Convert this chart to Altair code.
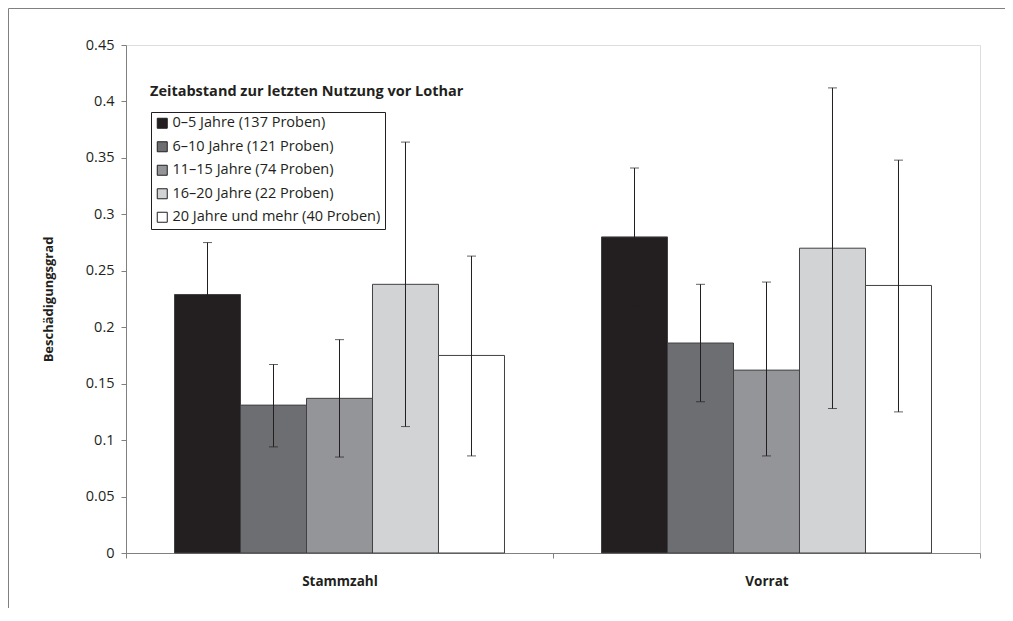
import altair as alt
import pandas as pd

categories = ["Stammzahl", "Vorrat"]
groups = [
    "0–5 Jahre (137 Proben)",
    "6–10 Jahre (121 Proben)",
    "11–15 Jahre (74 Proben)",
    "16–20 Jahre (22 Proben)",
    "20 Jahre und mehr (40 Proben)",
]
colors = ["#231f20", "#6d6e71", "#939598", "#d1d3d4", "#ffffff"]

# means per group: [Stammzahl, Vorrat]
mean_values = {
    groups[0]: [0.229, 0.280],
    groups[1]: [0.131, 0.186],
    groups[2]: [0.137, 0.162],
    groups[3]: [0.238, 0.270],
    groups[4]: [0.175, 0.237],
}
err_low = {
    groups[0]: [0.183, 0.219],
    groups[1]: [0.094, 0.134],
    groups[2]: [0.085, 0.086],
    groups[3]: [0.112, 0.128],
    groups[4]: [0.086, 0.125],
}
err_high = {
    groups[0]: [0.275, 0.341],
    groups[1]: [0.167, 0.238],
    groups[2]: [0.189, 0.240],
    groups[3]: [0.364, 0.412],
    groups[4]: [0.263, 0.348],
}

rows = []
for g in groups:
    for i, c in enumerate(categories):
        rows.append({"cat": c, "grp": g, "val": mean_values[g][i],
                     "lo": err_low[g][i], "hi": err_high[g][i]})
df = pd.DataFrame(rows)

FONT = "Open Sans"
TXT = "#231f20"
W, H = 854, 508

x_enc = alt.X("cat:N", sort=categories,
              scale=alt.Scale(paddingInner=0, paddingOuter=0),
              axis=alt.Axis(title=None, labelAngle=0, labelFontWeight="bold",
                            labelFontSize=13.5, labelPadding=16, tickSize=5,
                            tickBand="extent", domainColor="#808080",
                            tickColor="#808080", labelColor=TXT))
xo_enc = alt.XOffset("grp:N", sort=groups,
                     scale=alt.Scale(paddingInner=0, paddingOuter=0.735))
y_scale = alt.Scale(domain=[0, 0.45], nice=False)

bars = alt.Chart(df).mark_bar(stroke="#414042", strokeWidth=1).encode(
    x=x_enc,
    xOffset=xo_enc,
    y=alt.Y("val:Q", scale=y_scale,
            axis=alt.Axis(title="Beschädigungsgrad", values=[0, 0.05, 0.1, 0.15, 0.2, 0.25, 0.3, 0.35, 0.4, 0.45],
                          format=".2~f", grid=False, tickSize=5, labelPadding=7,
                          labelFontSize=14.5, titleFontSize=13, titleFontWeight="bold",
                          titlePadding=30, domainColor="#808080", tickColor="#808080",
                          labelColor=TXT, titleColor=TXT)),
    color=alt.Color("grp:N", sort=groups,
                    scale=alt.Scale(domain=groups, range=colors),
                    legend=alt.Legend(title=None, orient="none", legendX=25, legendY=67,
                                      symbolType="square", symbolSize=100,
                                      symbolStrokeColor=TXT, symbolStrokeWidth=1,
                                      labelFontSize=14.5, labelFont=FONT, labelColor=TXT,
                                      labelOffset=3, rowPadding=7.5, padding=4,
                                      strokeColor=TXT, labelLimit=400)),
)

rules = alt.Chart(df).mark_rule(color=TXT, strokeWidth=1).encode(
    x=alt.X("cat:N", sort=categories), xOffset=alt.XOffset("grp:N", sort=groups),
    y=alt.Y("lo:Q", scale=y_scale), y2="hi:Q",
)
cap_lo = alt.Chart(df).mark_tick(color=TXT, size=9, thickness=1).encode(
    x=alt.X("cat:N", sort=categories), xOffset=alt.XOffset("grp:N", sort=groups),
    y=alt.Y("lo:Q", scale=y_scale),
)
cap_hi = alt.Chart(df).mark_tick(color=TXT, size=9, thickness=1).encode(
    x=alt.X("cat:N", sort=categories), xOffset=alt.XOffset("grp:N", sort=groups),
    y=alt.Y("hi:Q", scale=y_scale),
)

legend_title = alt.Chart(pd.DataFrame({"t": ["Zeitabstand zur letzten Nutzung vor Lothar"]})).mark_text(
    align="left", baseline="middle", fontWeight="bold", fontSize=14.5, font=FONT, color=TXT
).encode(text="t:N", x=alt.value(24), y=alt.value(47))

one = pd.DataFrame({"a": [0]})
frame_top = alt.Chart(one).mark_rule(color="#808080", strokeWidth=1).encode(
    x=alt.value(-117.5), x2=alt.value(W + 26), y=alt.value(-36.5))
frame_left = alt.Chart(one).mark_rule(color="#808080", strokeWidth=1).encode(
    x=alt.value(-117.5), y=alt.value(-36.5), y2=alt.value(H + 60))

chart = alt.layer(frame_top, frame_left, bars, rules, cap_lo, cap_hi, legend_title).properties(
    width=W, height=H,
    autosize=alt.AutoSizeParams(type="none"),
    padding={"left": 118, "top": 37, "right": 25, "bottom": 55},
).configure_view(stroke="#808080", strokeWidth=1).configure(
    font=FONT
).configure_axis(labelFont=FONT, titleFont=FONT)

chart.save("out.html", embed_options={"renderer": "svg", "actions": False})
